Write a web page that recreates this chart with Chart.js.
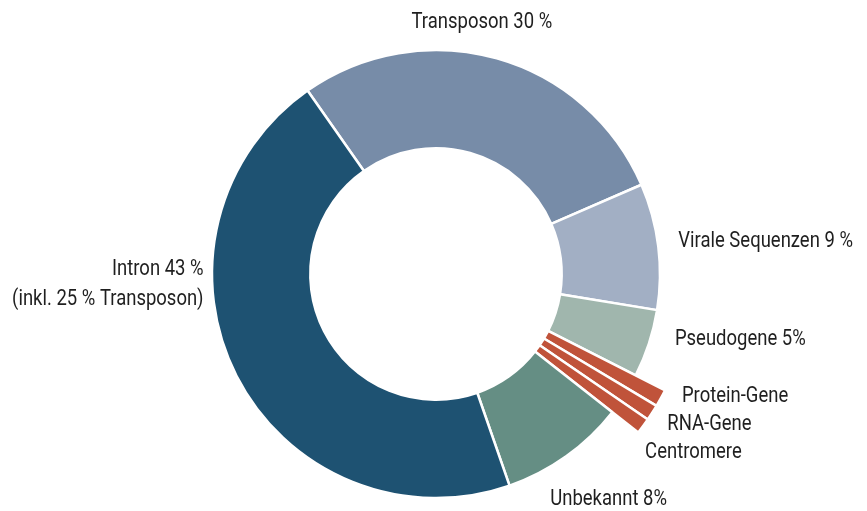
<!DOCTYPE html>
<html>
<head>
<meta charset="utf-8">
<script src="https://cdn.jsdelivr.net/npm/chart.js@4.4.1/dist/chart.umd.min.js"></script>
<style>
    html, body { margin: 0; padding: 0; background: #fff; }
    #wrap { width: 867px; height: 511px; position: relative; }
</style>
</head>
<body>
<div id="wrap"><canvas id="genomChart"></canvas></div>
<script>
// Anteile (Winkel der Segmente)
const categories = ['Transposon', 'Virale Sequenzen', 'Pseudogene', 'Protein-Gene', 'RNA-Gene', 'Centromere', 'Unbekannt', 'Intron'];
const shares = [28.2, 9.1, 4.9, 1.1, 1.0, 1.0, 9.1, 45.6];
const label_lines = [
    ['Transposon 30 %'],
    ['Virale Sequenzen 9 %'],
    ['Pseudogene 5%'],
    ['Protein-Gene'],
    ['RNA-Gene'],
    ['Centromere'],
    ['Unbekannt 8%'],
    ['Intron 43 %', '(inkl. 25 % Transposon)']
];
const colors = ['#778ca8', '#a2afc4', '#a0b6ad', '#c0533a', '#c0533a', '#c0533a', '#658e84', '#1e5272'];
// herausgezogene Segmente (Faktor auf den Außenradius)
const extend = [1, 1, 1, 1.147, 1.147, 1.147, 1, 1];

// Beschriftung: Ausrichtung und Versatz zum Segment-Außenrand
const label_align = ['center', 'left', 'left', 'left', 'left', 'left', 'left', 'right'];
const label_nudge = [[-15, -36], [20, -5], [26, -4], [21, -2], [15, 12], [2, 26], [-16, 43], [-33, -106]];

// schmale Schrift nachbilden: horizontal gestaucht
const FONT = '22px Roboto, "DejaVu Sans", sans-serif';
const SQUISH = 0.84;

const extendPlugin = {
    id: 'extendArcs',
    afterDatasetsUpdate(chart) {
        const meta = chart.getDatasetMeta(0);
        meta.data.forEach((arc, i) => {
            arc.outerRadius = arc.outerRadius * extend[i];
        });
    }
};

const labelPlugin = {
    id: 'sliceLabels',
    afterDatasetsDraw(chart) {
        const ctx = chart.ctx;
        const meta = chart.getDatasetMeta(0);
        meta.data.forEach((arc, i) => {
            const mid = (arc.startAngle + arc.endAngle) / 2;
            const x = arc.x + Math.cos(mid) * arc.outerRadius + label_nudge[i][0];
            const y = arc.y + Math.sin(mid) * arc.outerRadius + label_nudge[i][1];
            ctx.save();
            ctx.font = FONT;
            ctx.fillStyle = '#1f1f1f';
            ctx.textBaseline = 'middle';
            ctx.textAlign = label_align[i];
            ctx.translate(x, y);
            ctx.scale(SQUISH, 1);
            label_lines[i].forEach((line, k) => {
                ctx.fillText(line, 0, k * 30);
            });
            ctx.restore();
        });
    }
};

new Chart(document.getElementById('genomChart').getContext('2d'), {
    type: 'doughnut',
    data: {
        labels: categories,
        datasets: [{
            data: shares,
            backgroundColor: colors,
            borderColor: '#ffffff',
            borderWidth: 2.5
        }]
    },
    options: {
        responsive: true,
        maintainAspectRatio: false,
        animation: false,
        rotation: -35,
        radius: 224,
        cutout: 125,
        layout: {
            padding: { left: 5, right: 0, top: 50, bottom: 13 }
        },
        plugins: {
            legend: { display: false },
            tooltip: { enabled: false }
        }
    },
    plugins: [extendPlugin, labelPlugin]
});
</script>
</body>
</html>
